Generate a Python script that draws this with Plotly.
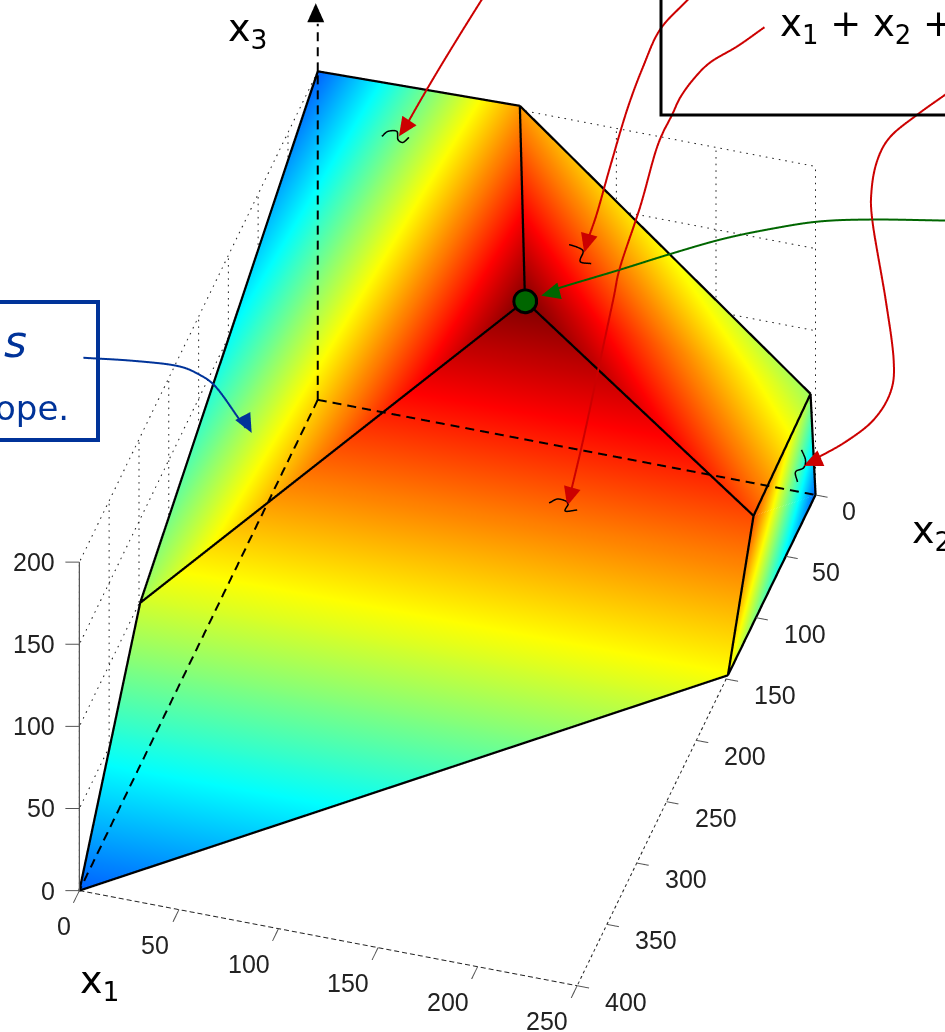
import numpy as np
import plotly.graph_objects as go

W, H = 945, 1032

# ---- data: polytope vertices (origin, B, C, D, E, F, G, H, I, J, G on the front face)
x1_v = [0, 0, 250, 0, 101.5, 134, 0, 250, 250, 247.5, 0]
x2_v = [0, 400, 0, 0, 0, 100, 298, 104, 147, 0, 298]
x3_v = [0, 0, 0, 200, 202.5, 166, 99, 65, 0, 61, 99]
colour_v = [0.0, 0.22, 0.22, 0.22, 0.72, 1.0, 0.54, 0.8, 0.62, 0.53, 0.58]
tri_i = [3, 3, 1, 10, 10, 5, 5, 9, 2]
tri_j = [4, 5, 8, 8, 7, 4, 9, 2, 8]
tri_k = [5, 6, 10, 7, 5, 9, 7, 7, 7]
solid_edges = [(3, 4), (4, 9), (9, 2), (2, 8), (8, 1), (1, 6), (6, 3), (4, 5), (5, 6), (5, 7), (7, 8), (7, 9)]
dash_edges = [(0, 1), (0, 2), (0, 3)]
optimum = 5
x1_ticks = [0, 50, 100, 150, 200, 250]
x2_ticks = [0, 50, 100, 150, 200, 250, 300, 350, 400]
x3_ticks = [0, 50, 100, 150, 200]

# Callout curves, read in page pixels
red_a = [(482, 0), (462, 32), (440, 68), (420, 102), (403, 132)]
red_b = [(688, 0), (660, 30), (643, 67), (627, 110), (610, 167), (597, 213), (587, 242)]
red_c = [(764, 28), (737, 47), (710, 63), (693, 80), (680, 98), (672, 115), (657, 147), (640, 207), (620, 267), (613, 300), (598, 370), (583, 440), (570, 495)]
red_d = [(945, 95), (917, 115), (890, 137), (877, 160), (871, 190), (872, 223), (885, 300), (893, 360), (890, 392), (873, 420), (845, 442), (813, 460)]
green_a = [(945, 221), (872, 220), (818, 222), (767, 230), (720, 240), (668, 255), (620, 270), (560, 288), (550, 292)]
blue_a = [(84, 358), (133, 361), (177, 366), (200, 375), (217, 388), (240, 420), (246, 428)]
squiggles = [
    [(382, 137), (388, 132), (397, 132), (398, 140), (403, 143), (409, 138)],
    [(569, 245), (578, 248), (583, 252), (580, 262), (591, 264)],
    [(549, 503), (558, 499), (568, 503), (565, 511), (577, 510)],
    [(801, 450), (805, 460), (803, 468), (795, 472), (797, 482)],
]
# Arrow heads: tip and the direction they come from, page pixels
heads = [
    ((399, 137), (12, -18), "#cc0000"),
    ((584, 253), (5, -18), "#cc0000"),
    ((567, 506), (5, -18), "#cc0000"),
    ((803, 466), (18, -8), "#cc0000"),
    ((541, 296), (19, -5), "#006600"),
    ((252, 433), (-9, -17), "#003399"),
    ((316, 4), (0, 18), "black"),
]

# Projection: page px per data unit
M = np.array([[1.988, -0.595, 0.0], [0.38, 1.225, -1.64]])
ORIGIN = np.array([318.0, 400.0])
PINV = np.linalg.pinv(M)
CENTRE = np.array([125.0, 200.0, 100.0])
RANGE = np.array([250.0, 400.0, 200.0])
EXT = 3.0
Z_PAD = 1.05

def page_to_data(pts):
    base = ORIGIN + M @ CENTRE
    return np.array([CENTRE + PINV @ (np.array(p) - base) for p in pts])

def smooth(pts, n=10):
    """Catmull-Rom rounding of a hand-drawn callout curve."""
    p = [np.array(a, float) for a in pts]
    p = [2 * p[0] - p[1]] + p + [2 * p[-1] - p[-2]]
    out = []
    for k in range(1, len(p) - 2):
        for u in np.linspace(0, 1, n, endpoint=False):
            out.append(0.5 * (2 * p[k] + (p[k + 1] - p[k - 1]) * u
                              + (2 * p[k - 1] - 5 * p[k] + 4 * p[k + 1] - p[k + 2]) * u ** 2
                              + (3 * p[k] - p[k - 1] - 3 * p[k + 1] + p[k + 2]) * u ** 3))
    out.append(p[-2])
    return out

w1 = 1 / (3.952 + 0.354 * 1.0364)
w2 = 1.0364 * w1
w3 = (1 - 0.1444 * w1 - 1.5006 * w2) / 2.6896
SCALE = np.sqrt(1 / np.array([w1, w2, w3]))
r_right = np.array([1.988 / SCALE[0], 0.595 / SCALE[1], 0.0])
r_up = np.array([-0.38 / SCALE[0], 1.225 / SCALE[1], 1.64 / SCALE[2]])
eye_dir = np.cross(r_right, r_up)
K = 800.0 * 0.644
aspect = RANGE * SCALE / K
DIST = 4.0
box_px = ORIGIN + M @ CENTRE
dx, dy = W / 2 - box_px[0], box_px[1] - H / 2
cen = (dx * r_right + dy * r_up) / K
camera = dict(
    center=dict(x=cen[0], y=cen[1], z=cen[2]),
    eye=dict(x=cen[0] + DIST * eye_dir[0], y=cen[1] + DIST * eye_dir[1], z=cen[2] + DIST * eye_dir[2]),
    up=dict(x=0, y=0, z=1),
    projection=dict(type="orthographic"),
)
toward_eye = np.array([eye_dir[0] / SCALE[0], -eye_dir[1] / SCALE[1], eye_dir[2] / SCALE[2]])

JET = [[0, "rgb(0,0,128)"], [0.125, "rgb(0,0,255)"], [0.375, "rgb(0,255,255)"],
       [0.625, "rgb(255,255,0)"], [0.875, "rgb(255,0,0)"], [1, "rgb(128,0,0)"]]
FLAT = dict(ambient=1, diffuse=0, specular=0, roughness=1, fresnel=0)

fig = go.Figure()
fig.add_trace(go.Mesh3d(x=x1_v, y=x2_v, z=x3_v, i=tri_i, j=tri_j, k=tri_k, intensity=colour_v,
                        colorscale=JET, cmin=0, cmax=1, showscale=False, hoverinfo="skip", scene="scene",
                        lighting=FLAT, flatshading=False))

def broken(p, q, on, off):
    """Split the segment p-q into dashes given in page pixels."""
    p, q = np.array(p, float), np.array(q, float)
    length = np.linalg.norm(M @ (q - p))
    xs, ys, zs = [], [], []
    s = 0.0
    while s < length:
        e = min(s + on, length)
        a, b = p + (q - p) * s / length, p + (q - p) * e / length
        xs += [a[0], b[0], None]
        ys += [a[1], b[1], None]
        zs += [a[2], b[2], None]
        s += on + off
    return xs, ys, zs

def add_line(xs, ys, zs, scene="scene2", color="black", width=3):
    fig.add_trace(go.Scatter3d(x=xs, y=ys, z=zs, mode="lines", scene=scene, hoverinfo="skip", showlegend=False,
                               connectgaps=False, line=dict(color=color, width=width)))

def grid(p, q, on=1.6, off=5):
    add_line(*broken(p, q, on, off), scene="scene", color="#222222", width=2)

for t in x3_ticks[1:]:
    grid((0, 0, t), (250, 0, t))
    grid((0, 0, t), (0, 400, t))
for t in x1_ticks[1:]:
    grid((t, 0, 0), (t, 0, 200))
for t in x2_ticks[1:]:
    grid((0, t, 0), (0, t, 200))
grid((0, 400, 0), (250, 400, 0), 5, 3)
grid((250, 0, 0), (250, 400, 0), 3, 3)

EDGE = 4.5
for a, b in solid_edges:
    add_line([x1_v[a], x1_v[b]], [x2_v[a], x2_v[b]], [x3_v[a], x3_v[b]], width=EDGE)
for a, b in dash_edges:
    add_line(*broken((x1_v[a], x2_v[a], x3_v[a]), (x1_v[b], x2_v[b], x3_v[b]), 9, 6), width=EDGE - 0.5)
add_line(*broken((0, 0, 200), (0, 0, 229), 9, 6), width=EDGE - 0.5)

for curve, col in [(red_a, "#cc0000"), (red_b, "#cc0000"), (red_c, "#cc0000"), (red_d, "#cc0000"),
                   (green_a, "#006600"), (blue_a, "#003399")]:
    d = page_to_data(smooth(curve))
    add_line(d[:, 0], d[:, 1], d[:, 2], color=col, width=4)
for s in squiggles:
    d = page_to_data(smooth(s, 6))
    add_line(d[:, 0], d[:, 1], d[:, 2], color="black", width=3)

for tip, back, col in heads:
    tip_a, b = np.array(tip, float), np.array(back, float)
    unit = b / np.linalg.norm(b)
    norm = np.array([-unit[1], unit[0]])
    tri = page_to_data([tip_a, tip_a + 19 * unit + 8.5 * norm, tip_a + 19 * unit - 8.5 * norm])
    fig.add_trace(go.Mesh3d(x=tri[:, 0], y=tri[:, 1], z=tri[:, 2], i=[0], j=[1], k=[2], color=col, scene="scene2",
                            hoverinfo="skip", lighting=FLAT, flatshading=True))

# Axis line and tick marks
AX = "#555555"
add_line([0, 0], [400, 400], [0, 200], color=AX, width=2.5)
tick_left = PINV @ np.array([-14.0, 0.0])
for t in x3_ticks:
    add_line([0, tick_left[0]], [400, 400 + tick_left[1]], [t, t + tick_left[2]], color=AX, width=2)
for t in x1_ticks:
    add_line([t, t], [400, 410], [0, 0], color=AX, width=2)
for t in x2_ticks:
    add_line([250, 256], [t, t], [0, 0], color=AX, width=2)

# Optimum: black disc with a green one nearer to the viewer
opt = np.array([x1_v[optimum], x2_v[optimum], x3_v[optimum]], float)
for depth, size, col in [(30, 15, "black"), (60, 11.5, "#006600")]:
    o = opt + toward_eye * depth
    fig.add_trace(go.Scatter3d(x=[o[0]], y=[o[1]], z=[o[2]], mode="markers", scene="scene2",
                               hoverinfo="skip", showlegend=False, marker=dict(size=size, color=col)))

TICKFONT = dict(family="Liberation Sans", size=25, color="#222222")
def tick_note(x, y, z, text, xs, ys, anchor="center"):
    return dict(x=x, y=y, z=z, text=text, showarrow=False, xshift=xs, yshift=ys, xanchor=anchor, yanchor="middle",
                font=TICKFONT)

notes = []
x1_shift = {1: -15, 2: -24, 3: -30}
for t in x1_ticks:
    notes.append(tick_note(t, 400, 0, str(t), x1_shift[len(str(t))], -35))
x2_shift = {1: 33, 2: 40, 3: 49}
for t in x2_ticks:
    notes.append(tick_note(250, t, 0, str(t), x2_shift[len(str(t))], -16))
for t in x3_ticks:
    notes.append(tick_note(0, 400, t, str(t), -22, 0, anchor="right"))

def hidden(rng):
    return dict(range=rng, visible=False, showgrid=False, zeroline=False, showbackground=False, showspikes=False,
                showticklabels=False, showline=False, title=dict(text=""))

def blank(c, r, factor, rev=False):
    lo, hi = c - factor * r / 2, c + factor * r / 2
    return hidden([hi, lo] if rev else [lo, hi])

dom = dict(x=[0, 1], y=[0, 1])
fig.update_layout(
    width=W, height=H, margin=dict(l=0, r=0, t=0, b=0), paper_bgcolor="white", showlegend=False,
    scene=dict(domain=dom, camera=camera, aspectmode="manual",
               aspectratio=dict(x=aspect[0], y=aspect[1], z=aspect[2] * Z_PAD),
               xaxis=hidden([0, 250]), yaxis=hidden([400, 0]), zaxis=blank(100, 200, Z_PAD),
               bgcolor="rgba(0,0,0,0)", annotations=notes),
    scene2=dict(domain=dom, camera=camera, aspectmode="manual",
                aspectratio=dict(x=aspect[0] * EXT, y=aspect[1] * EXT, z=aspect[2] * EXT),
                xaxis=blank(125, 250, EXT), yaxis=blank(200, 400, EXT, True), zaxis=blank(100, 200, EXT),
                bgcolor="rgba(0,0,0,0)"),
    shapes=[
        dict(type="rect", xref="paper", yref="paper", x0=-0.05, x1=98 / W, y0=1 - 440 / H, y1=1 - 302 / H,
             line=dict(color="#003399", width=4)),
        dict(type="rect", xref="paper", yref="paper", x0=661 / W, x1=1.05, y0=1 - 115 / H, y1=1.05,
             line=dict(color="black", width=3)),
    ],
)

def label(text, px, py, size=38, color="black", anchor="left", italic=False):
    fig.add_annotation(x=px / W, y=1 - py / H, xref="paper", yref="paper", text=f"<i>{text}</i>" if italic else text,
                       showarrow=False, xanchor=anchor, yanchor="middle",
                       font=dict(family="DejaVu Sans", size=size, color=color))

label("x<sub>1</sub> + x<sub>2</sub> +", 778, 26, size=37)
label("x<sub>3</sub>", 226, 30)
label("x<sub>1</sub>", 78, 982)
label("x<sub>2</sub>", 910, 532)
label("s", 2, 342, size=44, color="#003399", italic=True)
label("ope.", 71, 408, size=34, color="#003399", anchor="right")

fig.write_html("out.html", config=dict(displayModeBar=False), post_script="document.body.style.margin='0';")
